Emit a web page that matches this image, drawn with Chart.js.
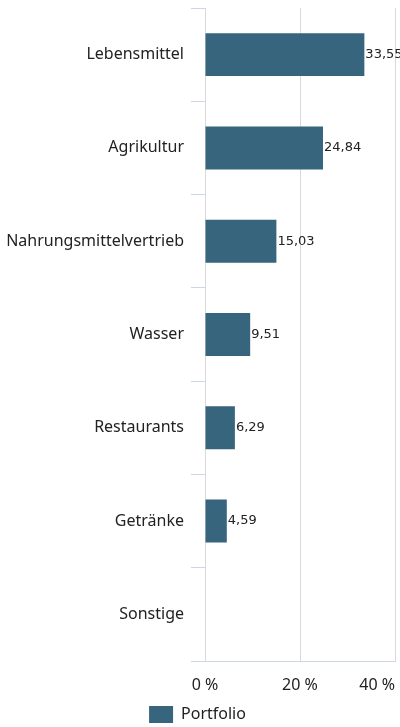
<!doctype html>
<html>
<head>
<meta charset="utf-8">
<script src="https://cdn.jsdelivr.net/npm/chart.js@4/dist/chart.umd.min.js"></script>
<style>
  html, body { margin: 0; padding: 0; background: #fff; }
  #wrap { width: 400px; height: 727px; }
</style>
<script>
// Branchen im Portfolio, Anteil in %
const categories = ['Lebensmittel', 'Agrikultur', 'Nahrungsmittelvertrieb', 'Wasser', 'Restaurants', 'Getränke', 'Sonstige'];
const portfolio = [33.55, 24.84, 15.03, 9.51, 6.29, 4.59, null];
const xTicks = [0, 20, 40];

const barColor = '#36657d';
const labelFont = 'Noto Sans';

// writes the value right of each bar end
const valueLabels = {
  id: 'valueLabels',
  afterDatasetsDraw(chart) {
    const ctx = chart.ctx;
    const meta = chart.getDatasetMeta(0);
    ctx.save();
    ctx.font = '13px "DejaVu Sans"';
    ctx.fillStyle = '#222';
    ctx.textAlign = 'left';
    ctx.textBaseline = 'middle';
    meta.data.forEach(function(bar, i) {
      const v = portfolio[i];
      if (v == null) return;
      ctx.fillText(v.toFixed(2).replace('.', ','), bar.x + 1, bar.y);
    });
    ctx.restore();
  }
};

// first x label centered, last one kept inside the canvas
const xLabelAlign = {
  id: 'xLabelAlign',
  beforeDraw(chart) {
    const items = chart.scales.x.getLabelItems();
    if (items.length) items[0].options.textAlign = 'center';
  }
};

function start() {
  const ctx = document.getElementById('chart').getContext('2d');
  new Chart(ctx, {
    type: 'bar',
    data: {
      labels: categories,
      datasets: [{
        label: 'Portfolio',
        data: portfolio,
        backgroundColor: barColor,
        borderWidth: 0,
        categoryPercentage: 1,
        barPercentage: 0.46
      }]
    },
    options: {
      indexAxis: 'y',
      responsive: false,
      animation: false,
      events: [],
      layout: { padding: { top: 8, right: 5, left: 0, bottom: -6 } },
      scales: {
        x: {
          min: 0,
          max: 40,
          afterBuildTicks(scale) {
            scale.ticks = xTicks.map(v => ({ value: v }));
          },
          afterFit(scale) {
            scale.height = 45;
            scale.paddingRight = 0;
            scale.paddingLeft = 0;
          },
          ticks: {
            align: 'inner',
            padding: 15,
            color: '#222',
            font: { family: labelFont, size: 16 },
            callback: v => v + ' %'
          },
          grid: { color: '#d9d9d9', drawTicks: false },
          border: { color: '#ccd6eb' }
        },
        y: {
          afterFit(scale) {
            scale.width = 205;
            scale.paddingTop = 0;
            scale.paddingBottom = 0;
          },
          ticks: {
            padding: 7,
            color: '#222',
            font: { family: labelFont, size: 16 }
          },
          grid: { offset: true, drawOnChartArea: false, tickLength: 14, color: '#ccd6eb' },
          border: { color: '#d9d9d9' }
        }
      },
      plugins: {
        legend: {
          position: 'bottom',
          labels: {
            boxWidth: 24,
            boxHeight: 17,
            padding: 0,
            color: '#222',
            font: { family: labelFont, size: 16 }
          }
        },
        tooltip: { enabled: false }
      }
    },
    plugins: [valueLabels, xLabelAlign]
  });
}
</script>
</head>
<body onload="start()">
<div id="wrap"><canvas id="chart" width="400" height="727"></canvas></div>
</body>
</html>
